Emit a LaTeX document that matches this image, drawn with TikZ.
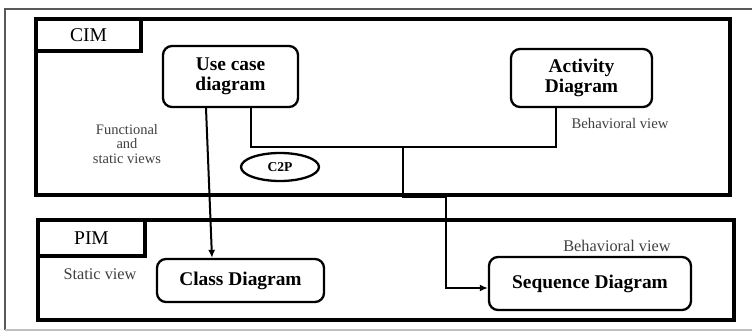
\documentclass[tikz,border=0pt]{standalone}
\usepackage{fontspec}
\setmainfont{Liberation Serif}
\usetikzlibrary{arrows.meta,shapes.geometric}
\tikzset{
  frame/.style={draw, line width=3.2pt, rectangle, inner sep=0pt},
  tab/.style={draw, line width=3.2pt, rectangle, inner sep=0pt, font=\fontsize{19.5}{19.5}\selectfont},
  diag/.style={draw, line width=2.3pt, rectangle, rounded corners=9pt, inner sep=0pt, align=center, font=\fontsize{19.4}{20}\selectfont\bfseries},
  lbl/.style={inner sep=0pt, align=center, text=black!75},
  conn/.style={line width=2pt},
  arr/.style={line width=2pt, -{Latex[length=8pt,width=7pt]}}
}
\begin{document}
\begin{tikzpicture}[x=1pt,y=-1pt]
\useasboundingbox (0,0) rectangle (752,331);
% outer frame
\draw[black!65, line width=1.6pt] (5,330) -- (5,9) -- (752,9);
\draw[black!25, line width=1.2pt] (5,330) -- (752,330);
% CIM
\node[frame, minimum width=694pt, minimum height=176pt] (cim) at (383,107) {};
\node[tab, minimum width=105pt, minimum height=32pt] (cimtab) at (88.5,35) {CIM};
% PIM
\node[frame, minimum width=696pt, minimum height=100pt] (pim) at (386,270) {};
\node[tab, minimum width=107pt, minimum height=36pt] (pimtab) at (91.5,238) {PIM};
% diagrams
\node[diag, minimum width=135pt, minimum height=61pt] (usecase) at (230.5,76.5) {Use case\\diagram};
\node[diag, minimum width=141pt, minimum height=58pt] (activity) at (581.5,78) {Activity\\Diagram};
\node[diag, minimum width=167pt, minimum height=43pt] (class) at (240.5,280.5) {Class Diagram};
\node[diag, minimum width=202pt, minimum height=53pt] (sequence) at (590,283.5) {Sequence Diagram};
\node[draw, ellipse, line width=2.3pt, minimum width=78pt, minimum height=28pt, inner sep=0pt, font=\fontsize{13.6}{14}\selectfont\bfseries] (c2p) at (280,167) {C2P};
% labels
\node[lbl, font=\fontsize{14.5}{14.5}\selectfont] (fsv) at (127,144) {Functional\\and\\static views};
\node[lbl, font=\fontsize{14.7}{15}\selectfont] (bv1) at (620,123) {Behavioral view};
\node[lbl, font=\fontsize{16.3}{17}\selectfont] (sv) at (100,274) {Static view};
\node[lbl, font=\fontsize{16.3}{17}\selectfont] (bv2) at (617,246) {Behavioral view};
% connectors
\coordinate (j) at (403,147);
\draw[arr] ([xshift=-24.5pt]usecase.south) -- ([xshift=-28.5pt]class.north);
\draw[conn] ([xshift=20.5pt]usecase.south) |- (j) -| ([xshift=-25.5pt]activity.south);
\draw[arr] (j) -- (j |- cim.south) -- ++(43,0) |- ([yshift=-4.5pt]sequence.west);
\end{tikzpicture}
\end{document}
